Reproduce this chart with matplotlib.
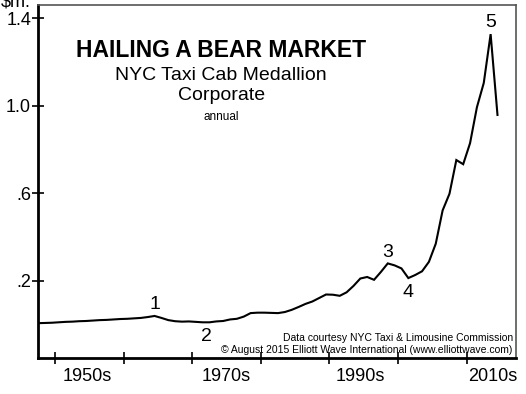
import numpy as np
import matplotlib
matplotlib.use('Agg')
import matplotlib.pyplot as plt
from matplotlib.ticker import FixedLocator, NullFormatter

plt.rcParams['font.family'] = ['Liberation Sans', 'DejaVu Sans']

# annual corporate medallion price, $ millions
years = np.arange(1947, 2015)
price = [0.007, 0.008, 0.009,
         0.011, 0.013, 0.014, 0.016, 0.017, 0.019, 0.021, 0.022, 0.024, 0.026,
         0.027, 0.029, 0.031, 0.035, 0.040, 0.031, 0.021, 0.016, 0.014, 0.015,
         0.013, 0.011, 0.011, 0.015, 0.017, 0.024, 0.027, 0.037, 0.053, 0.055,
         0.055, 0.054, 0.053, 0.058, 0.068, 0.081, 0.095, 0.106, 0.122, 0.138,
         0.137, 0.132, 0.148, 0.177, 0.211, 0.218, 0.205, 0.241, 0.280, 0.271,
         0.257, 0.213, 0.227, 0.244, 0.287, 0.370, 0.522, 0.598, 0.752, 0.733,
         0.829, 0.993, 1.104, 1.327, 0.958]

# wave labels: (text, year, value, vertical alignment)
waves = [('1', 1964, 0.040, 'bottom'), ('2', 1971.5, 0.011, 'top'),
         ('3', 1998, 0.280, 'bottom'), ('4', 2001, 0.213, 'top'),
         ('5', 2013, 1.327, 'bottom')]

yticks = [0.2, 0.6, 1.0, 1.4]
ytick_labels = ['.2', '.6', '1.0', '1.4']
decades = [1950, 1960, 1970, 1980, 1990, 2000, 2010]
decade_labels = ['1950s', '1970s', '1990s', '2010s']
decade_label_pos = [1954.7, 1975, 1994.5, 2013.8]

fig = plt.figure(figsize=(5.26, 3.94), dpi=100)
ax = fig.add_axes([38 / 526, 1 - 358 / 394, 478 / 526, 353 / 394])

# annual values are plotted at mid-year
ax.plot(years + 0.5, price, color='black', lw=1.5, solid_joinstyle='miter')

for txt, yr, val, va in waves:
    off = 2 if va == 'bottom' else -4
    ax.annotate(txt, (yr + 0.5, val), xytext=(0, off), textcoords='offset points',
                ha='center', va=va, fontsize=14)

ax.set_xlim(1947.5, 2017.2)
ax.set_ylim(-0.152, 1.46)

ax.yaxis.set_major_locator(FixedLocator(yticks))
ax.set_yticklabels(ytick_labels)
ax.xaxis.set_major_locator(FixedLocator(decades))
ax.xaxis.set_major_formatter(NullFormatter())
ax.xaxis.set_minor_locator(FixedLocator(decade_label_pos))
ax.set_xticklabels(decade_labels, minor=True)

ax.tick_params(axis='both', which='major', direction='inout', length=8, width=1.2,
               labelsize=13, color='black')
ax.tick_params(axis='y', pad=1)
ax.tick_params(axis='x', which='minor', length=0, labelsize=13, pad=7)

for s in ['left', 'bottom']:
    ax.spines[s].set_linewidth(2)
    ax.spines[s].set_color('black')
for s in ['top', 'right']:
    ax.spines[s].set_linewidth(1.2)
    ax.spines[s].set_color('#555555')

fig.text(1 / 526, 1 - 7 / 394, '$m.', fontsize=13, ha='left', va='baseline')

tx = 0.383
ax.text(tx, 0.853, 'HAILING A BEAR MARKET', transform=ax.transAxes, ha='center',
        va='baseline', fontsize=16.5, fontweight='bold')
ax.text(tx, 0.788, 'NYC Taxi Cab Medallion', transform=ax.transAxes, ha='center',
        va='baseline', fontsize=14)
ax.text(tx, 0.731, 'Corporate', transform=ax.transAxes, ha='center',
        va='baseline', fontsize=14)
ax.text(tx, 0.674, 'annual', transform=ax.transAxes, ha='center',
        va='baseline', fontsize=8.5)

ax.text(0.993, 0.058, 'Data courtesy NYC Taxi & Limousine Commission', transform=ax.transAxes,
        ha='right', va='center', fontsize=7.5)
ax.text(0.993, 0.024, '\u00a9 August 2015 Elliott Wave International (www.elliottwave.com)',
        transform=ax.transAxes, ha='right', va='center', fontsize=7.5)

fig.savefig('out.png', dpi=100)
